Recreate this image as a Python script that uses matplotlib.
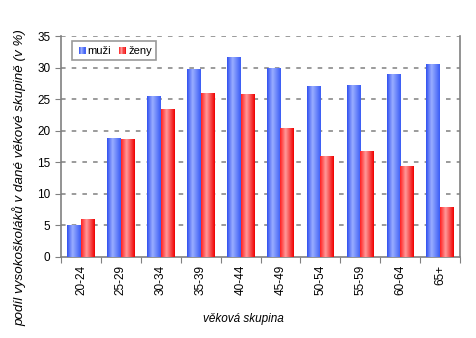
import matplotlib
matplotlib.use('Agg')
import matplotlib.pyplot as plt
import numpy as np
from matplotlib.colors import LinearSegmentedColormap
from matplotlib.patches import Rectangle
from matplotlib.legend_handler import HandlerBase

plt.rcParams['font.family'] = ['Liberation Sans', 'DejaVu Sans']

# data
age_groups = ['20-24', '25-29', '30-34', '35-39', '40-44',
              '45-49', '50-54', '55-59', '60-64', '65+']
men = [5.0, 18.8, 25.5, 29.7, 31.6, 30.0, 27.0, 27.3, 28.9, 30.5]
women = [6.0, 18.6, 23.4, 26.0, 25.8, 20.4, 16.0, 16.8, 14.4, 7.9]
series_names = ['muži', 'ženy']

BLUE_CMAP = LinearSegmentedColormap.from_list(
    'blue', [(0, '#3050f0'), (0.4, '#9aaeff'), (1, '#3a5cf5')])
RED_CMAP = LinearSegmentedColormap.from_list(
    'red', [(0, '#ff2020'), (0.4, '#ff9a9a'), (1, '#f00000')])
GRID = '#808080'

grad = np.linspace(0, 1, 64).reshape(1, -1)


def fill_gradient(ax, bars, cmap):
    for b in bars:
        x0, y0 = b.get_x(), b.get_y()
        w, h = b.get_width(), b.get_height()
        im = ax.imshow(grad, cmap=cmap, aspect='auto',
                       extent=(x0, x0 + w, y0, y0 + h), zorder=3,
                       interpolation='bilinear')
        im.set_clip_path(b)
        b.set_facecolor('none')


class GradHandler(HandlerBase):
    def __init__(self, cmap):
        super().__init__()
        self.cmap = cmap

    def create_artists(self, legend, orig, xd, yd, w, h, fontsize, trans):
        n = 6
        arts = []
        side = h * 0.9
        x0 = xd + w - side
        for i in range(n):
            r = Rectangle((x0 + side * i / n, yd), side / n, side,
                          facecolor=self.cmap((i + 0.5) / n),
                          edgecolor='none', transform=trans)
            arts.append(r)
        return arts


fig = plt.figure(figsize=(4.77, 3.38), dpi=100)
ax = fig.add_axes([61 / 477, 1 - 256.5 / 338, 399 / 477, 220.5 / 338])

x = np.arange(len(age_groups))
bw = 0.34
b1 = ax.bar(x - bw / 2, men, bw, color='#6080f8', linewidth=0, zorder=3)
b2 = ax.bar(x + bw / 2, women, bw, color='#ff6060', linewidth=0, zorder=3)
fill_gradient(ax, b1, BLUE_CMAP)
fill_gradient(ax, b2, RED_CMAP)

ax.set_xlim(-0.5, len(age_groups) - 0.5)
ax.set_ylim(0, 35)
ax.set_yticks(np.arange(0, 36, 5))
ax.set_xticks(np.arange(-0.5, len(age_groups), 1.0))
ax.set_xticklabels([])
ax.set_xticks(x, minor=True)
ax.set_xticklabels(age_groups, minor=True, rotation=90)
ax.tick_params(axis='x', which='minor', length=0, pad=6, labelsize=8.5)
ax.tick_params(axis='x', which='major', length=4, color=GRID, direction='out')
ax.tick_params(axis='y', length=4, color=GRID, direction='out', labelsize=8.5)

for v in range(5, 36, 5):
    ax.axhline(v, color=GRID, linestyle=(0, (3, 4)), linewidth=1.1, zorder=1)

for s in ['left', 'right', 'bottom']:
    ax.spines[s].set_color(GRID)
    ax.spines[s].set_linewidth(1.2)
ax.spines['top'].set_visible(False)

ax.set_xlabel('věková skupina', fontsize=8.5, style='italic')
ax.xaxis.set_label_coords(0.456, -0.255)
ax.set_ylabel('podíl vysokoškoláků v dané věkové skupině (v %)', fontsize=9.6,
              style='italic')
ax.yaxis.set_label_coords(-0.088, 0.356)

leg = ax.legend([b1, b2], series_names, loc='upper left',
                bbox_to_anchor=(0.028, 0.977), borderaxespad=0,
                fontsize=8, frameon=True,
                fancybox=False, handlelength=0.8, handletextpad=0.2,
                columnspacing=0.5, ncol=2, borderpad=0.4,
                handler_map={b1: GradHandler(BLUE_CMAP), b2: GradHandler(RED_CMAP)})
leg.get_frame().set_edgecolor(GRID)
leg.get_frame().set_linewidth(1.2)

fig.savefig('out.png', dpi=100)
